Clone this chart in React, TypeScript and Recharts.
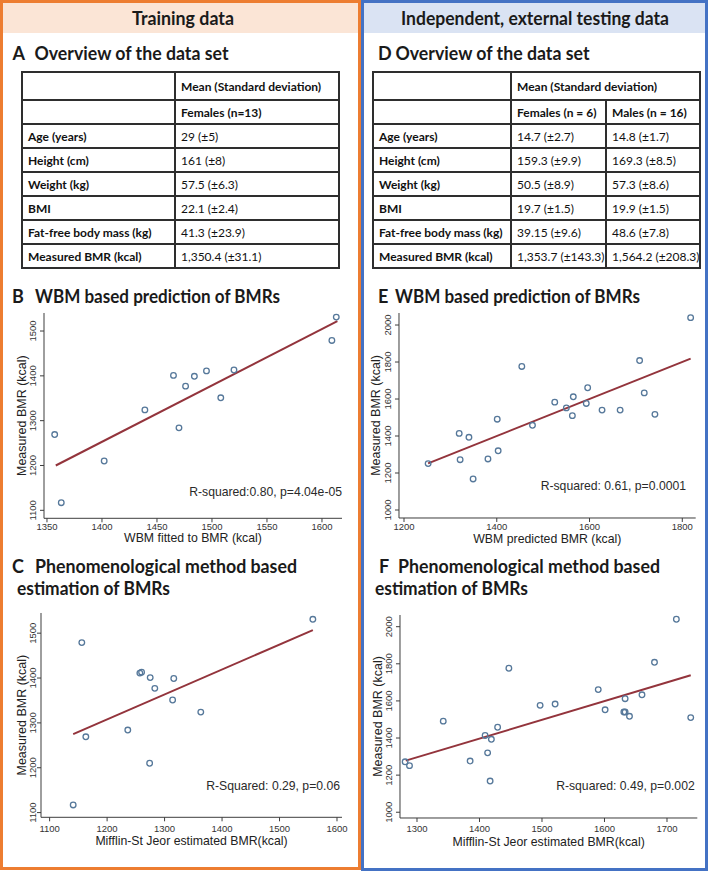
import React from 'react';
import { ScatterChart, Scatter, XAxis, YAxis, ReferenceLine } from 'recharts';

// ---------- Data ----------
const trainMeasured = [1531, 1479, 1401, 1411, 1399, 1377, 1413, 1351, 1324, 1284, 1269, 1210, 1117];
const trainWbm = [1613, 1609, 1465, 1495, 1484, 1476, 1520, 1508, 1439, 1470, 1357, 1402, 1363];
const trainMifflin = [1558, 1156, 1275, 1257, 1316, 1283, 1260, 1314, 1363, 1236, 1163, 1274, 1141];

const testMeasured = [2040, 1808, 1776, 1633, 1661, 1612, 1583, 1552, 1576, 1510, 1540, 1540, 1517, 1458, 1491, 1414, 1393, 1320, 1272, 1276, 1251, 1168];
const testWbm = [1818, 1708, 1454, 1718, 1596, 1565, 1525, 1550, 1593, 1563, 1627, 1666, 1741, 1477, 1401, 1319, 1340, 1403, 1321, 1381, 1252, 1349];
const testMifflin = [1715, 1680, 1447, 1660, 1590, 1633, 1521, 1601, 1497, 1738, 1631, 1633, 1640, 1429, 1342, 1409, 1419, 1413, 1281, 1385, 1288, 1417];

const fitTrainWbm = [{ x: 1358, y: 1200 }, { x: 1614, y: 1522 }];
const fitTestWbm = [{ x: 1252, y: 1252 }, { x: 1818, y: 1818 }];
const fitTrainMifflin = [{ x: 1141, y: 1275 }, { x: 1558, y: 1507 }];
const fitTestMifflin = [{ x: 1282, y: 1278 }, { x: 1738, y: 1738 }];

const ticksTrainWbmX = [1350, 1400, 1450, 1500, 1550, 1600];
const ticksTrainMifflinX = [1100, 1200, 1300, 1400, 1500, 1600];
const ticksTrainY = [1100, 1200, 1300, 1400, 1500];
const ticksTestWbmX = [1200, 1400, 1600, 1800];
const ticksTestMifflinX = [1300, 1400, 1500, 1600, 1700];
const ticksTestY = [1000, 1200, 1400, 1600, 1800, 2000];

const rowLabels = ['Age (years)', 'Height (cm)', 'Weight (kg)', 'BMI', 'Fat-free body mass (kg)', 'Measured BMR (kcal)'];
const trainFemales = ['29 (±5)', '161 (±8)', '57.5 (±6.3)', '22.1 (±2.4)', '41.3 (±23.9)', '1,350.4 (±31.1)'];
const testFemales = ['14.7 (±2.7)', '159.3 (±9.9)', '50.5 (±8.9)', '19.7 (±1.5)', '39.15 (±9.6)', '1,353.7 (±143.3)'];
const testMales = ['14.8 (±1.7)', '169.3 (±8.5)', '57.3 (±8.6)', '19.9 (±1.5)', '48.6 (±7.8)', '1,564.2 (±208.3)'];

// ---------- Styles ----------
const TITLE_FONT = 'Lato, "Open Sans", sans-serif';
const CHART_FONT = '"Liberation Sans", Arial, sans-serif';
const AXIS_COLOR = '#3c3c3c';
const MARKER = '#56789a';
const FIT = '#93343c';

type PlotProps = {
  L: number; R: number; T: number; B: number;
  xDomain: [number, number]; yDomain: [number, number];
  xTicks: number[]; yTicks: number[];
  xs: number[]; ys: number[];
  fit: { x: number; y: number }[];
  xTitle: string; yTitle: string;
  xTickGap: number; xTitleGap: number; yTickGap: number; yTitleGap: number;
};

function Plot(p: PlotProps) {
  const YW = 40, TOP = 10, RIGHT = 10, XH = 40;
  const pw = p.R - p.L, ph = p.B - p.T;
  const width = pw + YW + RIGHT, height = ph + TOP + XH;
  const axisY = TOP + ph;
  const data = p.xs.map((x, i) => ({ x, y: p.ys[i] }));
  const XTick = (t: any) => (
    <text x={t.x} y={axisY + p.xTickGap} textAnchor="middle" fontSize={9.5} fill="#333" fontFamily={CHART_FONT}>
      {t.payload.value}
    </text>
  );
  const YTick = (t: any) => {
    const bx = YW - p.yTickGap;
    return (
      <text x={bx} y={t.y} transform={`rotate(-90 ${bx} ${t.y})`} textAnchor="middle" fontSize={9.5} fill="#333" fontFamily={CHART_FONT}>
        {t.payload.value}
      </text>
    );
  };
  const XLabel = () => (
    <text x={YW + pw / 2} y={axisY + p.xTitleGap} textAnchor="middle" fontSize={12.3} fill="#222" fontFamily={CHART_FONT}>
      {p.xTitle}
    </text>
  );
  const YLabel = () => {
    const bx = YW - p.yTitleGap, cy = TOP + ph / 2;
    return (
      <text x={bx} y={cy} transform={`rotate(-90 ${bx} ${cy})`} textAnchor="middle" fontSize={12.5} fill="#222" fontFamily={CHART_FONT}>
        {p.yTitle}
      </text>
    );
  };
  const Hollow = (s: any) => (
    <circle cx={s.cx} cy={s.cy} r={2.8} fill="none" stroke={MARKER} strokeWidth={1.3} />
  );
  return (
    <div style={{ position: 'absolute', left: p.L - YW, top: p.T - TOP }}>
      <ScatterChart width={width} height={height} margin={{ top: TOP, right: RIGHT, bottom: 0, left: 0 }}>
        <XAxis
          type="number" dataKey="x" domain={p.xDomain} ticks={p.xTicks} allowDataOverflow interval={0}
          height={XH} tick={XTick} tickSize={4} axisLine={{ stroke: AXIS_COLOR }} tickLine={{ stroke: AXIS_COLOR }}
          label={{ value: p.xTitle, content: XLabel }}
        />
        <YAxis
          type="number" dataKey="y" domain={p.yDomain} ticks={p.yTicks} allowDataOverflow interval={0}
          width={YW} tick={YTick} tickSize={4} axisLine={{ stroke: AXIS_COLOR }} tickLine={{ stroke: AXIS_COLOR }}
          label={{ value: p.yTitle, content: YLabel }}
        />
        <ReferenceLine segment={p.fit} stroke={FIT} strokeWidth={2} ifOverflow="visible" />
        <Scatter data={data} isAnimationActive={false} shape={Hollow} />
      </ScatterChart>
    </div>
  );
}

const cell: React.CSSProperties = {
  border: '2px solid #2e2e2e',
  padding: '0 0 0 5px',
  verticalAlign: 'middle',
  whiteSpace: 'nowrap',
  overflow: 'hidden',
};
const bold: React.CSSProperties = { ...cell, fontWeight: 700 };

function TrainTable() {
  return (
    <table style={{ position: 'absolute', left: 21, top: 71, width: 317, height: 197, borderCollapse: 'collapse', tableLayout: 'fixed', fontFamily: TITLE_FONT, fontSize: 12, color: '#111' }}>
      <colgroup><col style={{ width: 153 }} /><col style={{ width: 164 }} /></colgroup>
      <tbody>
        <tr style={{ height: 28 }}><td style={cell}></td><td style={bold}>Mean (Standard deviation)</td></tr>
        <tr style={{ height: 24 }}><td style={cell}></td><td style={bold}>Females (n=13)</td></tr>
        {rowLabels.map((r, i) => (
          <tr key={r} style={{ height: 24 }}><td style={bold}>{r}</td><td style={cell}>{trainFemales[i]}</td></tr>
        ))}
      </tbody>
    </table>
  );
}

function TestTable() {
  return (
    <table style={{ position: 'absolute', left: 372, top: 71, width: 327, height: 197, borderCollapse: 'collapse', tableLayout: 'fixed', fontFamily: TITLE_FONT, fontSize: 12, color: '#111' }}>
      <colgroup><col style={{ width: 138 }} /><col style={{ width: 95 }} /><col style={{ width: 94 }} /></colgroup>
      <tbody>
        <tr style={{ height: 28 }}><td style={cell}></td><td style={bold} colSpan={2}>Mean (Standard deviation)</td></tr>
        <tr style={{ height: 24 }}><td style={cell}></td><td style={bold}>Females (n = 6)</td><td style={bold}>Males (n = 16)</td></tr>
        {rowLabels.map((r, i) => (
          <tr key={r} style={{ height: 24 }}><td style={bold}>{r}</td><td style={cell}>{testFemales[i]}</td><td style={cell}>{testMales[i]}</td></tr>
        ))}
      </tbody>
    </table>
  );
}

export default function App() {
  const T = { fontFamily: TITLE_FONT, fontWeight: 700, fontSize: 18, fill: '#1a1a1a' } as any;
  const N = { fontFamily: CHART_FONT, fontSize: 12.2, fill: '#2a2a2a', textAnchor: 'end' } as any;
  const fit = (w: number) => ({ textLength: w, lengthAdjust: 'spacingAndGlyphs' } as any);
  return (
    <div style={{ position: 'absolute', left: 0, top: 0, width: 709, height: 871, background: '#fff', overflow: 'hidden' }}>
      <div style={{ position: 'absolute', left: 0, top: 0, width: 361, height: 870, border: '3px solid #ED7D31', boxSizing: 'border-box' }}>
        <div style={{ position: 'absolute', left: 0, top: 0, right: 0, height: 30, background: '#FBE5D6' }} />
      </div>
      <div style={{ position: 'absolute', left: 361, top: 0, width: 347, height: 871, border: '3px solid #4472C4', boxSizing: 'border-box' }}>
        <div style={{ position: 'absolute', left: 0, top: 0, right: 0, height: 30, background: '#DAE3F3' }} />
      </div>

      <TrainTable />
      <TestTable />

      <Plot L={44} R={342} T={312.7} B={518} xDomain={[1347.3, 1618.2]} yDomain={[1082.2, 1540.2]}
        xTicks={ticksTrainWbmX} yTicks={ticksTrainY} xs={trainWbm} ys={trainMeasured} fit={fitTrainWbm}
        xTitle="WBM fitted to BMR (kcal)" yTitle="Measured BMR (kcal)"
        xTickGap={12} xTitleGap={24} yTickGap={8} yTitleGap={18} />
      <Plot L={399} R={695.7} T={313} B={518} xDomain={[1189.2, 1828.9]} yDomain={[956.8, 2065]}
        xTicks={ticksTestWbmX} yTicks={ticksTestY} xs={testWbm} ys={testMeasured} fit={fitTestWbm}
        xTitle="WBM predicted BMR (kcal)" yTitle="Measured BMR (kcal)"
        xTickGap={12.5} xTitleGap={25} yTickGap={7.7} yTitleGap={19} />
      <Plot L={40.7} R={341.7} T={613} B={817.3} xDomain={[1085, 1608.7]} yDomain={[1089.5, 1545]}
        xTicks={ticksTrainMifflinX} yTicks={ticksTrainY} xs={trainMifflin} ys={trainMeasured} fit={fitTrainMifflin}
        xTitle="Mifflin-St Jeor estimated BMR(kcal)" yTitle="Measured BMR (kcal)"
        xTickGap={14.5} xTitleGap={28} yTickGap={5} yTitleGap={15} />
      <Plot L={399.7} R={697} T={615} B={818} xDomain={[1272.8, 1748.5]} yDomain={[969, 2063]}
        xTicks={ticksTestMifflinX} yTicks={ticksTestY} xs={testMifflin} ys={testMeasured} fit={fitTestMifflin}
        xTitle="Mifflin-St Jeor estimated BMR(kcal)" yTitle="Measured BMR (kcal)"
        xTickGap={14} xTitleGap={28} yTickGap={8.4} yTitleGap={17.5} />

      <svg width={709} height={871} style={{ position: 'absolute', left: 0, top: 0, pointerEvents: 'none' }}>
        <text {...T} {...fit(102)} x={132} y={25}>Training data</text>
        <text {...T} {...fit(268)} x={401} y={25}>Independent, external testing data</text>

        <text {...T} x={12.5} y={60}>A</text>
        <text {...T} {...fit(194)} x={34.5} y={60}>Overview of the data set</text>
        <text {...T} x={378} y={60}>D</text>
        <text {...T} {...fit(194)} x={395.5} y={60}>Overview of the data set</text>

        <text {...T} x={12} y={303}>B</text>
        <text {...T} {...fit(245)} x={35} y={303}>WBM based prediction of BMRs</text>
        <text {...T} x={378} y={303}>E</text>
        <text {...T} {...fit(245)} x={395} y={303}>WBM based prediction of BMRs</text>

        <text {...T} x={12} y={573}>C</text>
        <text {...T} {...fit(262)} x={35} y={573}>Phenomenological method based</text>
        <text {...T} {...fit(153)} x={17} y={595}>estimation of BMRs</text>
        <text {...T} x={379} y={573}>F</text>
        <text {...T} {...fit(262)} x={398} y={573}>Phenomenological method based</text>
        <text {...T} {...fit(153)} x={375} y={595}>estimation of BMRs</text>

        <text {...N} x={342} y={496}>R-squared:0.80, p=4.04e-05</text>
        <text {...N} x={686} y={490}>R-squared: 0.61, p=0.0001</text>
        <text {...N} x={340} y={790}>R-Squared: 0.29, p=0.06</text>
        <text {...N} x={694.7} y={790}>R-squared: 0.49, p=0.002</text>
      </svg>
    </div>
  );
}
